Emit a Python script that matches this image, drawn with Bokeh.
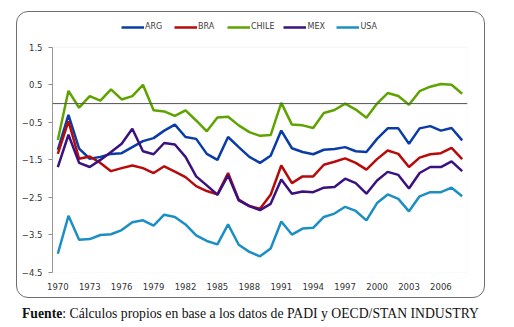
from bokeh.plotting import figure
from bokeh.models import (Range1d, FixedTicker, Span, Legend, LegendItem, Div,
                          BoxAnnotation, InlineStyleSheet)
from bokeh.layouts import column
from bokeh.embed import file_html
from bokeh.resources import INLINE

years = list(range(1970, 2009))
x_ticks = [1970, 1973, 1976, 1979, 1982, 1985, 1988, 1991, 1994, 1997, 2000, 2003, 2006]
y_ticks = [-4.5, -3.5, -2.5, -1.5, -0.5, 0.5, 1.5]

arg = [-1.23, -0.30, -1.20, -1.47, -1.42, -1.34, -1.32, -1.16, -1.00, -0.92,
       -0.72, -0.56, -0.89, -0.94, -1.34, -1.50, -0.89, -1.16, -1.42, -1.58,
       -1.39, -0.72, -1.19, -1.29, -1.35, -1.23, -1.21, -1.16, -1.27, -1.29,
       -0.94, -0.66, -0.66, -1.07, -0.66, -0.60, -0.72, -0.65, -0.98]
bra = [-1.34, -0.47, -1.47, -1.41, -1.58, -1.80, -1.72, -1.65, -1.72, -1.85,
       -1.67, -1.81, -1.96, -2.20, -2.33, -2.42, -1.85, -2.56, -2.73, -2.80,
       -2.43, -1.65, -2.12, -1.94, -1.94, -1.63, -1.55, -1.46, -1.58, -1.76,
       -1.48, -1.25, -1.34, -1.69, -1.44, -1.35, -1.32, -1.18, -1.48]
chile = [-0.97, 0.34, -0.11, 0.20, 0.08, 0.38, 0.11, 0.20, 0.50, -0.18,
         -0.21, -0.33, -0.18, -0.45, -0.74, -0.37, -0.35, -0.58, -0.76, -0.86,
         -0.84, 0.02, -0.56, -0.58, -0.65, -0.25, -0.17, 0.00, -0.16, -0.38,
         0.00, 0.28, 0.20, -0.03, 0.33, 0.45, 0.52, 0.50, 0.26]
mex = [-1.69, -0.83, -1.58, -1.69, -1.50, -1.29, -1.07, -0.67, -1.27, -1.35,
       -1.05, -1.09, -1.42, -1.94, -2.18, -2.43, -1.91, -2.58, -2.73, -2.84,
       -2.67, -2.02, -2.40, -2.34, -2.36, -2.24, -2.22, -2.00, -2.12, -2.40,
       -2.05, -1.82, -1.90, -2.26, -1.85, -1.69, -1.69, -1.54, -1.80]
usa = [-4.00, -2.99, -3.63, -3.61, -3.50, -3.48, -3.37, -3.16, -3.11, -3.25,
       -2.96, -3.02, -3.22, -3.51, -3.66, -3.75, -3.22, -3.76, -3.95, -4.07,
       -3.86, -3.14, -3.49, -3.33, -3.31, -3.02, -2.93, -2.75, -2.86, -3.11,
       -2.65, -2.42, -2.54, -2.87, -2.47, -2.36, -2.36, -2.24, -2.47]

series = [("ARG", arg, "#0a3ca8"), ("BRA", bra, "#b80a0a"),
          ("CHILE", chile, "#5fa300"), ("MEX", mex, "#3a1280"),
          ("USA", usa, "#1b8fc4")]

X0, X1 = 1969.5, 2008.5
Y0, Y1 = -4.5, 1.5

# frame extends above the plot area so that the legend sits inside it
p = figure(width=465, height=283,
           x_range=Range1d(X0, X1), y_range=Range1d(Y0, 2.32),
           output_backend="svg", toolbar_location=None,
           min_border_left=33, min_border_right=16,
           min_border_top=3, min_border_bottom=24,
           border_fill_color=None, background_fill_color=None,
           outline_line_color=None, margin=(1, 1, 1, 1))

p.xgrid.visible = False
p.ygrid.visible = False

# plot-area border
p.add_layout(BoxAnnotation(left=X0, right=X1, bottom=Y0, top=Y1,
                           fill_alpha=0, line_color="#d9d9d9", line_width=1))
p.add_layout(Span(location=0, dimension="width", line_color="#555555", line_width=1))

items = []
for name, vals, col in series:
    r = p.line(years, vals, line_color=col, line_width=2.5)
    items.append(LegendItem(label=name, renderers=[r]))

legend = Legend(items=items, orientation="horizontal", location=(69, 241),
                label_text_font="DejaVu Sans", label_text_font_size="8px",
                label_text_color="#404040", glyph_width=23, glyph_height=8,
                label_standoff=1, spacing=9, padding=0, margin=0,
                background_fill_alpha=0, border_line_alpha=0)
p.add_layout(legend)

p.yaxis.bounds = (Y0, Y1)
p.yaxis.ticker = FixedTicker(ticks=y_ticks)
p.yaxis.minor_tick_line_color = None
p.yaxis.axis_line_color = "#8c8c8c"
p.yaxis.major_tick_line_color = "#8c8c8c"
p.yaxis.major_tick_out = 4
p.yaxis.major_tick_in = 0
p.yaxis.major_label_standoff = 6
p.yaxis.major_label_text_font = "DejaVu Sans"
p.yaxis.major_label_text_font_size = "8.5px"
p.yaxis.major_label_text_color = "#333333"

p.xaxis.ticker = FixedTicker(ticks=x_ticks)
p.xaxis.minor_tick_line_color = None
p.xaxis.axis_line_color = None
p.xaxis.major_tick_line_color = None
p.xaxis.major_tick_out = 0
p.xaxis.major_tick_in = 0
p.xaxis.major_label_standoff = 10
p.xaxis.major_label_text_font = "DejaVu Sans"
p.xaxis.major_label_text_font_size = "8.5px"
p.xaxis.major_label_text_color = "#333333"

box_css = InlineStyleSheet(css=":host { border: 1px solid #6e6e6e; border-radius: 12px; }")
boxed = column(p, margin=(11, 0, 0, 16), stylesheets=[box_css])

caption = Div(text='<span style="font-weight:bold">Fuente</span>: Cálculos propios en base a los datos de PADI y OECD/STAN INDUSTRY',
              width=495, margin=(6, 0, 0, 22),
              styles={"font-family": "Liberation Serif", "font-size": "13.7px",
                      "color": "#111111", "white-space": "nowrap"})

layout = column(boxed, caption)
open("out.html", "w").write(file_html(layout, INLINE))
